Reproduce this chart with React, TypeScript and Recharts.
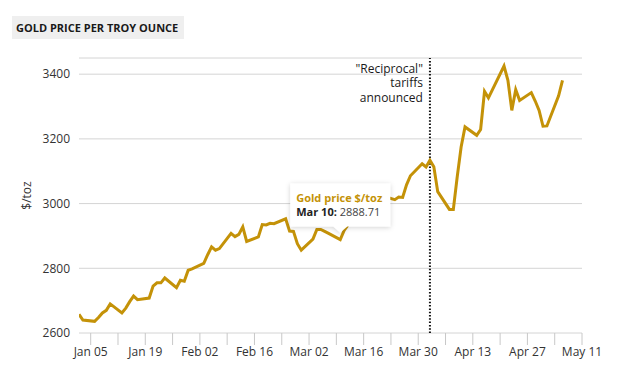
import React from 'react';
import { LineChart, Line, XAxis, YAxis, CartesianGrid, ReferenceLine, ReferenceDot, Label } from 'recharts';

const DATES = [
  '2025-01-02', '2025-01-03', '2025-01-06', '2025-01-07', '2025-01-08', '2025-01-09', '2025-01-10',
  '2025-01-13', '2025-01-14', '2025-01-15', '2025-01-16', '2025-01-17',
  '2025-01-20', '2025-01-21', '2025-01-22', '2025-01-23', '2025-01-24',
  '2025-01-27', '2025-01-28', '2025-01-29', '2025-01-30', '2025-01-31',
  '2025-02-03', '2025-02-04', '2025-02-05', '2025-02-06', '2025-02-07',
  '2025-02-10', '2025-02-11', '2025-02-12', '2025-02-13', '2025-02-14',
  '2025-02-17', '2025-02-18', '2025-02-19', '2025-02-20', '2025-02-21',
  '2025-02-24', '2025-02-25', '2025-02-26', '2025-02-27', '2025-02-28',
  '2025-03-03', '2025-03-04', '2025-03-05', '2025-03-06', '2025-03-07',
  '2025-03-10', '2025-03-11', '2025-03-12', '2025-03-13', '2025-03-14',
  '2025-03-17', '2025-03-18', '2025-03-19', '2025-03-20', '2025-03-21',
  '2025-03-24', '2025-03-25', '2025-03-26', '2025-03-27', '2025-03-28',
  '2025-03-31', '2025-04-01', '2025-04-02', '2025-04-03', '2025-04-04',
  '2025-04-07', '2025-04-08', '2025-04-09', '2025-04-10', '2025-04-11',
  '2025-04-14', '2025-04-15', '2025-04-16', '2025-04-17',
  '2025-04-21', '2025-04-22', '2025-04-23', '2025-04-24', '2025-04-25',
  '2025-04-28', '2025-04-29', '2025-04-30', '2025-05-01', '2025-05-02',
  '2025-05-05', '2025-05-06',
];

const PRICES = [
  2658, 2640, 2636, 2648, 2662, 2670, 2690,
  2662, 2677, 2697, 2714, 2703,
  2708, 2745, 2755, 2755, 2770,
  2740, 2763, 2760, 2794, 2798,
  2815, 2842, 2866, 2856, 2861,
  2908, 2898, 2905, 2928, 2883,
  2897, 2935, 2934, 2939, 2938,
  2953, 2915, 2914, 2876, 2856,
  2890, 2920, 2920, 2914, 2908,
  2888.71, 2917, 2934, 2988, 2984,
  3001, 3035, 3048, 3044, 3023,
  3012, 3020, 3019, 3058, 3086,
  3123, 3113, 3134, 3114, 3037,
  2982, 2982, 3083, 3175, 3237,
  3211, 3229, 3347, 3327,
  3425, 3381, 3288, 3352, 3319,
  3343, 3317, 3288, 3239, 3240,
  3333, 3381,
];

const Y_TICKS = [2600, 2800, 3000, 3200, 3400];
const Y_DOMAIN = [2600, 3450];

const X_TICK_DATES = [
  '2025-01-05', '2025-01-12', '2025-01-19', '2025-01-26', '2025-02-02', '2025-02-09',
  '2025-02-16', '2025-02-23', '2025-03-02', '2025-03-09', '2025-03-16', '2025-03-23',
  '2025-03-30', '2025-04-06', '2025-04-13', '2025-04-20', '2025-04-27', '2025-05-04', '2025-05-11',
];
const X_LABEL_DATES = [
  '2025-01-05', '2025-01-19', '2025-02-02', '2025-02-16', '2025-03-02',
  '2025-03-16', '2025-03-30', '2025-04-13', '2025-04-27', '2025-05-11',
];
const X_END = '2025-05-11';

const EVENT_DATE = '2025-04-02';
const EVENT_LINES = ['"Reciprocal"', 'tariffs', 'announced'];

const TIP_DATE = '2025-03-10';
const SERIES_NAME = 'Gold price $/toz';
const TITLE = 'GOLD PRICE PER TROY OUNCE';
const Y_LABEL = '$/toz';

const GOLD = '#c49208';
const MONTHS = ['Jan', 'Feb', 'Mar', 'Apr', 'May', 'Jun', 'Jul', 'Aug', 'Sep', 'Oct', 'Nov', 'Dec'];

const ts = (d: string) => {
  const [y, m, dd] = d.split('-').map(Number);
  return Date.UTC(y, m - 1, dd);
};
const fmtTick = (t: number) => {
  const d = new Date(t);
  return `${MONTHS[d.getUTCMonth()]} ${String(d.getUTCDate()).padStart(2, '0')}`;
};
const fmtTip = (t: number) => {
  const d = new Date(t);
  return `${MONTHS[d.getUTCMonth()]} ${d.getUTCDate()}`;
};

const data = DATES.map((d, i) => ({ t: ts(d), price: PRICES[i] }));
const labelSet = new Set(X_LABEL_DATES.map(ts));
const tipT = ts(TIP_DATE);
const tipValue = PRICES[DATES.indexOf(TIP_DATE)];

const YLabelContent = (props: any) => {
  const vb = props.viewBox || { x: 0, y: 0, width: 0, height: 0 };
  const cx = vb.x + 31;
  const cy = vb.y + vb.height / 2;
  return (
    <text
      x={0}
      y={0}
      transform={`translate(${cx}, ${cy}) rotate(-90)`}
      textAnchor="middle"
      fill="#333"
      fontSize={12}
    >
      {Y_LABEL}
    </text>
  );
};

const EventLabelContent = (props: any) => {
  const vb = props.viewBox || { x: 0, y: 0, width: 0, height: 0 };
  const top = Math.min(vb.y, vb.y + (vb.height || 0));
  const x = vb.x - 7;
  return (
    <g>
      {EVENT_LINES.map((s, i) => (
        <text key={i} x={x} y={top + 14.5 + i * 14.5} textAnchor="end" fill="#1a1a1a" fontSize={12}>
          {s}
        </text>
      ))}
    </g>
  );
};

const TipShape = (props: any) => {
  const { cx, cy } = props;
  if (cx == null || cy == null) return null;
  const w = 100;
  const h = 43;
  const x = cx - w / 2;
  const y = cy - 13 - h;
  const ah = 6;
  const aw = 7;
  const d = `M${x},${y} H${x + w} V${y + h} H${cx + aw} L${cx},${y + h + ah} L${cx - aw},${y + h} H${x} Z`;
  return (
    <g>
      <defs>
        <filter id="tipShadow" x="-20%" y="-30%" width="140%" height="170%">
          <feDropShadow dx="0" dy="1" stdDeviation="2.5" floodColor="#000" floodOpacity="0.18" />
        </filter>
      </defs>
      <path d={d} fill="#fff" filter="url(#tipShadow)" />
      <text x={x + 6} y={y + 18} fill={GOLD} fontSize={11} fontWeight={700}>
        {SERIES_NAME}
      </text>
      <text x={x + 6} y={y + 32} fontSize={11}>
        <tspan fill="#222" fontWeight={700}>{`${fmtTip(tipT)}:`}</tspan>
        <tspan fill="#444">{` ${tipValue.toFixed(2)}`}</tspan>
      </text>
    </g>
  );
};

export default function App() {
  return (
    <div
      style={{
        position: 'absolute',
        left: 0,
        top: 0,
        width: 627,
        height: 375,
        background: '#fff',
        fontFamily: '"Open Sans", "Noto Sans", sans-serif',
      }}
    >
      <div
        style={{
          position: 'absolute',
          left: 12,
          top: 16,
          height: 23,
          lineHeight: '23px',
          padding: '0 6px 0 4px',
          background: '#efefef',
          color: '#1a1a1a',
          fontWeight: 700,
          fontSize: 11,
          zIndex: 2,
          whiteSpace: 'nowrap',
        }}
      >
        {TITLE}
      </div>
      <LineChart width={627} height={375} data={data} margin={{ top: 58, right: 45, bottom: 12, left: 0 }}>
        <CartesianGrid vertical={false} stroke="#d4d4d4" />
        <XAxis
          dataKey="t"
          type="number"
          domain={[ts(DATES[0]), ts(X_END)]}
          ticks={X_TICK_DATES.map(ts)}
          tickFormatter={(v: number) => (labelSet.has(v) ? fmtTick(v) : '')}
          interval={0}
          tickSize={12}
          tickMargin={2}
          axisLine={false}
          tickLine={{ stroke: '#c8c8c8' }}
          tick={{ fill: '#333', fontSize: 12 }}
          height={30}
          allowDataOverflow
        />
        <YAxis
          domain={Y_DOMAIN}
          ticks={Y_TICKS}
          width={79}
          axisLine={false}
          tickLine={false}
          tickSize={6}
          tickMargin={3}
          tick={{ fill: '#333', fontSize: 12 }}
          allowDataOverflow
        >
          <Label content={YLabelContent} />
        </YAxis>
        <ReferenceLine
          x={ts(EVENT_DATE)}
          stroke="#111"
          strokeWidth={2}
          strokeDasharray="1.5 1.8"
          label={<Label content={EventLabelContent} />}
        />
        <Line
          type="linear"
          dataKey="price"
          stroke={GOLD}
          strokeWidth={3}
          dot={false}
          activeDot={false}
          isAnimationActive={false}
        />
        <ReferenceDot x={tipT} y={tipValue} shape={TipShape} ifOverflow="visible" />
      </LineChart>
    </div>
  );
}
